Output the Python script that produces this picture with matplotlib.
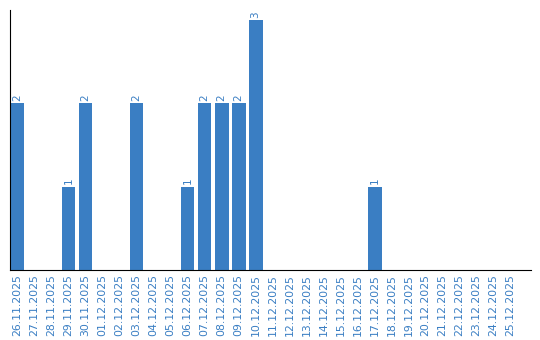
import datetime
import matplotlib
matplotlib.use("Agg")
import matplotlib.pyplot as plt

start = datetime.date(2025, 11, 26)
dates = [(start + datetime.timedelta(days=i)).strftime("%d.%m.%Y") for i in range(30)]
counts = [2, 0, 0, 1, 2, 0, 0, 2, 0, 0, 1, 2, 2, 2, 3,
          0, 0, 0, 0, 0, 0, 1, 0, 0, 0, 0, 0, 0, 0, 0]

blue = "#3a7ec3"

fig = plt.figure(figsize=(5.4, 3.4), dpi=100)
ax = fig.add_axes([10 / 540, 70 / 340, 521 / 540, 260 / 340])

x = list(range(len(dates)))
bars = ax.bar(x, counts, width=0.82, color=blue)
for xi, c in zip(x, counts):
    if c > 0:
        ax.text(xi, c + 0.03, str(c), rotation=90, ha="center", va="bottom",
                fontsize=7.5, color=blue)

ax.set_xlim(-0.44, 30.2)
ax.set_ylim(0, 3.12)
ax.set_xticks(x)
ax.set_xticklabels(dates, rotation=90, fontsize=7.8, color=blue)
ax.set_yticks([])
ax.tick_params(axis="x", length=0, pad=3)
for s in ["top", "right"]:
    ax.spines[s].set_visible(False)
ax.spines["left"].set_color("black")
ax.spines["bottom"].set_color("black")

fig.savefig("out.png", dpi=100)
